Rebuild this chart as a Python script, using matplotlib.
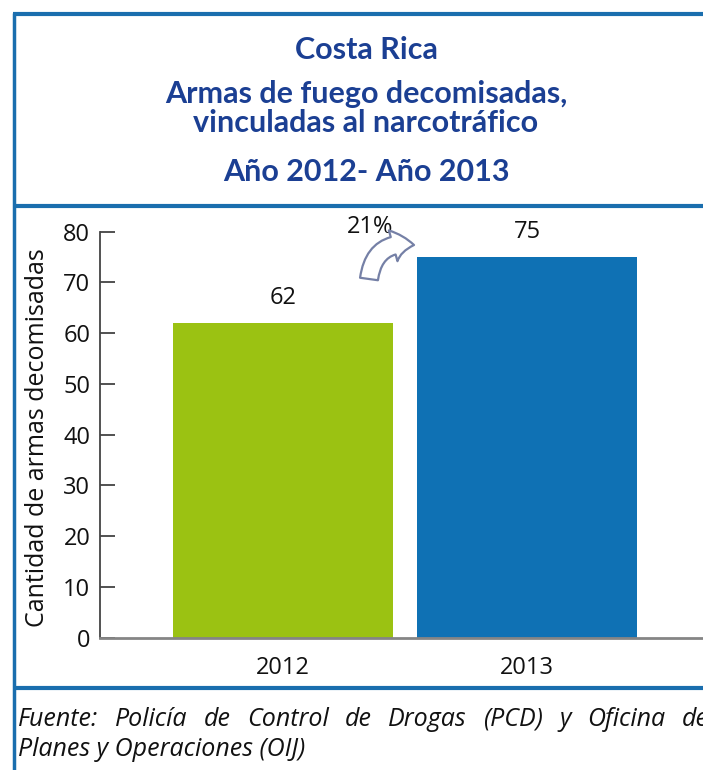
import matplotlib
matplotlib.use("Agg")
import matplotlib.pyplot as plt
from matplotlib.patches import FancyArrowPatch
from matplotlib.lines import Line2D

# ---- data ----
categories = ["2012", "2013"]
values = [62, 75]
bar_colors = ["#9bc212", "#0f71b4"]
yticks = [0, 10, 20, 30, 40, 50, 60, 70, 80]
change_label = "21%"
title_lines = ["Costa Rica", "Armas de fuego decomisadas,", "vinculadas al narcotráfico", "Año 2012- Año 2013"]
ylabel = "Cantidad de armas decomisadas"
source_line1 = "Fuente: Policía de Control de Drogas (PCD) y Oficina de"
source_line2 = "Planes y Operaciones (OIJ)"

W, H = 703, 770
fig = plt.figure(figsize=(W / 100, H / 100), dpi=100)
fig.patch.set_facecolor("white")

def fx(px):
    return px / W

def fy(py):
    return 1 - py / H

BODY = "Open Sans"
TITLE = "Lato"
title_color = "#1b3f93"
border_color = "#1a6eae"

# ---- axes ----
ax_left, ax_right = 100, 720
ax_top, ax_bottom = 231.7, 637.7
ax = fig.add_axes([fx(ax_left), fy(ax_bottom), fx(ax_right) - fx(ax_left), (ax_bottom - ax_top) / H])
ax.patch.set_alpha(0)
px_per_unit = 244.0
c0 = 283.0
ppv = (ax_bottom - ax_top) / 80.0  # pixels per value unit
ax.set_xlim((ax_left - c0) / px_per_unit, (ax_right - c0) / px_per_unit)
ax.set_ylim(0, 80)

xpos = list(range(len(categories)))
ax.bar(xpos, values, width=0.9, color=bar_colors, zorder=2)
for x, v in zip(xpos, values):
    ax.text(x, v + 5, str(v), ha="center", va="center", fontsize=17, family=BODY, color="#111111")

ax.set_yticks(yticks)
ax.set_yticklabels([str(t) for t in yticks], fontsize=17, family=BODY, color="#111111")
ax.set_xticks(xpos)
ax.set_xticklabels(categories, fontsize=17, family=BODY, color="#111111")
ax.tick_params(axis="y", direction="in", length=11, width=1.2, color="#333333", pad=7)
ax.tick_params(axis="x", length=0, pad=13)
for s in ["top", "right"]:
    ax.spines[s].set_visible(False)
ax.spines["left"].set_color("#444444")
ax.spines["left"].set_linewidth(1.3)
ax.spines["bottom"].set_color("#858585")
ax.spines["bottom"].set_linewidth(2.0)
ax.spines["bottom"].set_zorder(3)

# percent change annotation
ax.text((370 - c0) / px_per_unit, 80.9, change_label, ha="center", va="center",
        fontsize=17, family=BODY, color="#111111", clip_on=False)
arrow = FancyArrowPatch(((369 - c0) / px_per_unit, (ax_bottom - 279) / ppv),
                        ((414 - c0) / px_per_unit, (ax_bottom - 245) / ppv),
                        connectionstyle="arc3,rad=-0.5",
                        arrowstyle="simple,head_width=1.15,head_length=0.75,tail_width=0.65",
                        mutation_scale=20, facecolor="white", edgecolor="#7580a6", linewidth=1.6,
                        clip_on=False, zorder=4, shrinkA=0, shrinkB=0)
ax.add_patch(arrow)

# y label
fig.text(fx(38), fy(438), ylabel, rotation=90, ha="center", va="center", fontsize=18, family=BODY, color="#111111")

# ---- title ----
title_y = [50, 94, 123, 172]
for t, y in zip(title_lines, title_y):
    fig.text(fx(366), fy(y), t, ha="center", va="center", fontsize=22, family=TITLE,
             fontweight="bold", color=title_color)

# ---- frame lines ----
lw = 3.0
for y in [14, 206, 688]:
    fig.add_artist(Line2D([fx(12.5), 1.0], [fy(y), fy(y)], color=border_color, linewidth=lw,
                          solid_capstyle="butt"))
fig.add_artist(Line2D([fx(14), fx(14)], [fy(12.5), 0], color=border_color, linewidth=lw - 0.5,
                      solid_capstyle="butt"))

# ---- source (justified first line) ----
FS = 18
words = source_line1.split(" ")
txts = [fig.text(0, fy(719), w, ha="left", va="center", fontsize=FS, family=BODY,
                 style="italic", color="#111111") for w in words]
fig.canvas.draw()
r = fig.canvas.get_renderer()
widths = [t.get_window_extent(renderer=r).width for t in txts]
x0, x1 = 18.0, 709.0
gap = (x1 - x0 - sum(widths)) / (len(words) - 1)
cur = x0
for t, w in zip(txts, widths):
    t.set_x(fx(cur))
    cur += w + gap
fig.text(fx(18), fy(750), source_line2, ha="left", va="center", fontsize=FS, family=BODY,
         style="italic", color="#111111")

fig.savefig("out.png", dpi=100, facecolor="white")
